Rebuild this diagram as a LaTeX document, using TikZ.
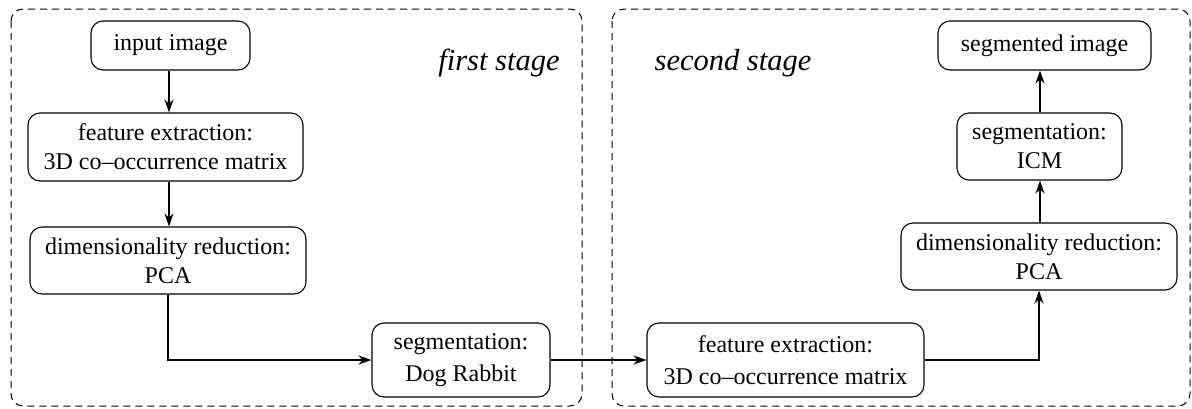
\documentclass[tikz,border=0pt]{standalone}
\usepackage{fontspec}
\setmainfont{Liberation Serif}[Ligatures=TeX]
\usetikzlibrary{arrows.meta}

\tikzset{
  box/.style={draw, rounded corners=12pt, line width=1.1pt, align=center, inner sep=0pt,
    font=\fontsize{24}{29}\selectfont},
  stagebox/.style={draw, rounded corners=12pt, line width=1pt, dash pattern=on 7pt off 5pt},
  stagelabel/.style={font=\itshape\fontsize{30.5}{34}\selectfont},
  flow/.style={-{Stealth[length=13pt,width=9pt]}, line width=1.8pt},
}

\begin{document}
\begin{tikzpicture}[x=1pt,y=-1pt]
  \useasboundingbox (0,0) rectangle (1192,408);
  % the two stages
  \draw[stagebox] (11,9) rectangle (582,406);
  \draw[stagebox] (612,9) rectangle (1190,406);
  \node[stagelabel] (lbl1) at (499,63) {first stage};
  \node[stagelabel] (lbl2) at (733,63) {second stage};
  % first stage
  \node[box, minimum width=159pt, minimum height=49pt] (inimg) at (170.5,45.5) {input image};
  \node[box, minimum width=275pt, minimum height=68pt] (feat1) at (165.5,147) {feature extraction:\\3D co--occurrence matrix};
  \node[box, minimum width=276pt, minimum height=67pt] (dim1) at (168,260.5) {dimensionality reduction:\\PCA};
  \node[box, minimum width=178pt, minimum height=74pt] (segdr) at (461,360) {segmentation:\\[3pt]Dog Rabbit};
  % second stage
  \node[box, minimum width=277pt, minimum height=74pt] (feat2) at (785.5,360) {feature extraction:\\[3pt]3D co--occurrence matrix};
  \node[box, minimum width=276pt, minimum height=67pt] (dim2) at (1039,256.5) {dimensionality reduction:\\PCA};
  \node[box, minimum width=165pt, minimum height=67pt] (icm) at (1039.5,146.5) {segmentation:\\ICM};
  \node[box, minimum width=213pt, minimum height=49pt] (segimg) at (1044.5,45.5) {segmented image};
  % connections
  \draw[flow] (inimg.south -| 169,0) -- (feat1.north -| 169,0);
  \draw[flow] (feat1.south -| 169,0) -- (dim1.north -| 169,0);
  \draw[flow] (dim1.south) |- (segdr.west);
  \draw[flow] (segdr.east) -- (feat2.west);
  \draw[flow] (feat2.east) -| (dim2.south);
  \draw[flow] (dim2.north -| 1040,0) -- (icm.south -| 1040,0);
  \draw[flow] (icm.north -| 1040,0) -- (segimg.south -| 1040,0);
\end{tikzpicture}
\end{document}
